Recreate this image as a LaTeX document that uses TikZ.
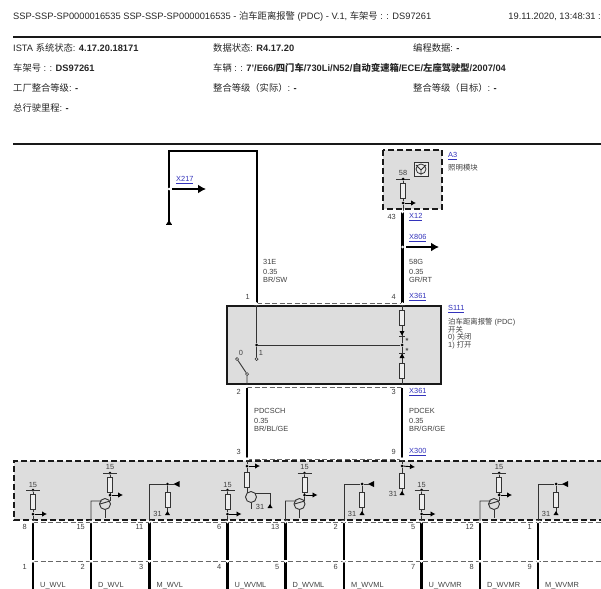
\documentclass[tikz,border=0pt]{standalone}
\usepackage{fontspec}
\setmainfont{Liberation Sans}
\newfontfamily\cjk{Noto Sans CJK SC}
\usetikzlibrary{arrows.meta,calc,positioning}
\definecolor{boxgray}{HTML}{DDDDDD}
\definecolor{linkblue}{HTML}{3333BB}
\definecolor{wiregray}{HTML}{333333}
\tikzset{
  txt/.style={inner sep=0pt,anchor=west,font=\fontsize{9.3}{9.3}\selectfont,text=black!85},
  lbl/.style={inner sep=0pt,anchor=west,font=\fontsize{7.4}{7.4}\selectfont,text=black!75},
  pinlbl/.style={lbl,anchor=east},
  linkto/.style={lbl,text=linkblue},
  wire/.style={line width=2.8pt,black},
  thin wire/.style={line width=0.9pt,wiregray},
  sig/.style={line width=2.6pt,-{Latex[length=8pt,width=9pt]}},
  smallsig/.style={line width=0.9pt,-{Latex[length=5pt,width=5.5pt]}},
  res/.style={draw=wiregray,line width=0.8pt,fill=boxgray!50,minimum width=5pt,minimum height=15pt,inner sep=0pt},
  dot/.style={circle,fill=black,inner sep=0pt,minimum size=3pt},
  hole/.style={circle,draw=wiregray,fill=white,line width=0.7pt,inner sep=0pt,minimum size=3pt},
  tran/.style={circle,draw=wiregray,line width=0.9pt,inner sep=0pt,minimum size=11pt},
  dashbox/.style={draw=black!90,line width=1.5pt,dash pattern=on 6pt off 3pt,fill=boxgray},
  thindash/.style={draw=black!60,line width=0.9pt,dash pattern=on 5pt off 2.5pt},
}
\newcommand{\gndmark}[1]{\fill[black] ($(#1)+(0,-4)$) -- ++(-2.5,4) -- ++(5,0) -- cycle;}
\newcommand{\notch}[1]{\fill[white] ($(#1)+(-2.6,0)$) -- ++(5.2,0) -- ++(-2.6,3) -- cycle;}
\newcommand{\notchup}[1]{\fill[white] ($(#1)+(-2.6,0)$) -- ++(5.2,0) -- ++(-2.6,-3) -- cycle;}
\begin{document}
\begin{tikzpicture}[x=1pt,y=-1pt]
  \useasboundingbox (0,0) rectangle (601,588);

  % header
  \node[txt] (title) at (13,17) {SSP-SSP-SP0000016535 SSP-SSP-SP0000016535 - {\cjk 泊车距离报警} (PDC) - V.1, {\cjk 车架号} : : DS97261};
  \node[txt,anchor=east] (date) at (601,17) {19.11.2020, 13:48:31 :};
  \draw[line width=1.6pt,black!90] (13,37) -- (601,37);
  \node[txt] (ista) at (13,47.5) {ISTA {\cjk 系统状态}: \textbf{4.17.20.18171}};
  \node[txt] (datastat) at (213,47.5) {{\cjk 数据状态}: \textbf{R4.17.20}};
  \node[txt] (prog) at (413,47.5) {{\cjk 编程数据}: \textbf{-}};
  \node[txt] (vin) at (13,68) {{\cjk 车架号} : : \textbf{DS97261}};
  \node[txt] (car) at (213,68) {{\cjk 车辆} : : \textbf{7'/E66/{\cjk\bfseries 四门车}/730Li/N52/{\cjk\bfseries 自动变速箱}/ECE/{\cjk\bfseries 左座驾驶型}/2007/04}};
  \node[txt] (plant) at (13,88) {{\cjk 工厂整合等级}: \textbf{-}};
  \node[txt] (actual) at (213,88) {{\cjk 整合等级（实际）}: \textbf{-}};
  \node[txt] (target) at (413,88) {{\cjk 整合等级（目标）}: \textbf{-}};
  \node[txt] (km) at (13,108) {{\cjk 总行驶里程}: \textbf{-}};
  \draw[line width=1.6pt,black!90] (13,144) -- (601,144);

  % boxes
  \path[dashbox] (383,150) rectangle (442,209);
  \path[draw=black!90,line width=1.5pt,fill=boxgray] (227,306) rectangle (441,384);
  \path[fill=boxgray] (14,461) rectangle (601,520);
  \draw[dashbox,fill=none] (603,461) -- (14,461) -- (14,520) -- (603,520);
  \draw[thindash] (257,303) -- (402,303);
  \draw[thindash] (247,387) -- (402,387);
  \draw[thindash] (247,459) -- (402,459);
  \draw[thindash] (33,522.5) -- (601,522.5);
  \draw[thindash] (33,561) -- (601,561);

  % X217 loop
  \coordinate (gndA) at (169,221);
  \coordinate (pinA) at (257,303);
  \draw[wire,line join=miter] (gndA) -- (169,151) -- (257,151) -- (pinA);
  \gndmark{169,224}
  \fill[black] (166,223.5) rectangle (172,225);
  \fill[white] (169,189) circle (1.5pt);
  \draw[sig] (172,189) -- (206,189);
  \node[linkto] (x217) at (176,180) {\underline{X217}};

  % A3
  \node[draw=wiregray,line width=0.9pt,fill=boxgray!60,minimum size=14pt,inner sep=0pt] (lamp) at (421,169) {};
  \draw[wiregray,line width=0.8pt] (lamp.center) circle (5pt)
    (416,165) -- (421,170) -- (426,165) (421,170) -- (421,175);
  \node[lbl,anchor=center] (a3pin) at (403,173) {58};
  \draw[line width=0.8pt,wiregray] (396,179) -- (410,179);
  \node[dot] (a3top) at (403,179) {};
  \node[res] (a3res) at (403,191) {};
  \node[dot] (a3out) at (403,203) {};
  \coordinate (a3pinb) at (403,211);
  \draw[thin wire] (a3top) -- (a3res) -- (a3out) -- (a3pinb);
  \draw[smallsig] (a3out) -- (416,203);
  \node[linkto] (a3) at (448,156) {\underline{A3}};
  \node[lbl] (a3txt) at (448,168) {\cjk 照明模块};

  % 58G line
  \draw[wire] (402.5,212) -- (402.5,303);
  \notch{402.5,210.5}
  \fill[white] (402.5,247) circle (1.5pt);
  \draw[sig] (406,247) -- (439,247);
  \node[pinlbl] (p43) at (396,217) {43};
  \node[linkto] (x12) at (409,217) {\underline{X12}};
  \node[linkto] (x806) at (409,238) {\underline{X806}};
  \node[lbl] (n31e) at (263,262) {31E};
  \node[lbl] (s31e) at (263,272) {0.35};
  \node[lbl] (c31e) at (263,280) {BR/SW};
  \node[lbl] (n58g) at (409,262) {58G};
  \node[lbl] (s58g) at (409,272) {0.35};
  \node[lbl] (c58g) at (409,280) {GR/RT};
  \node[pinlbl] (p1) at (250,297) {1};
  \node[pinlbl] (p4) at (396,297) {4};
  \node[linkto] (x361a) at (409,297) {\underline{X361}};

  % S111
  \node[linkto] (s111) at (448,309) {\underline{S111}};
  \node[lbl] (s111a) at (448,322) {{\cjk 泊车距离报警} (PDC)};
  \node[lbl] (s111b) at (448,329.5) {\cjk 开关};
  \node[lbl] (s111c) at (448,337.5) {0) {\cjk 关闭}};
  \node[lbl] (s111d) at (448,345.5) {1) {\cjk 打开}};
  \node[dot] (jl) at (256.5,345) {};
  \node[dot] (jr) at (402,345) {};
  \node[hole] (swa) at (256.5,359) {};
  \node[hole] (swb) at (237,359) {};
  \node[hole] (swc) at (247,374) {};
  \node[res] (rtop) at (402,318) {};
  \node[res] (rbot) at (402,371) {};
  \coordinate (s1) at (256.5,304);
  \coordinate (s2) at (402,304);
  \coordinate (s3) at (402,386);
  \coordinate (s4) at (247,386);
  \draw[thin wire] (s1) -- (jl) -- (swa) (jl) -- (jr) (s2) -- (rtop) -- (jr) -- (rbot) -- (s3);
  \draw[thin wire] (swb) -- (swc) -- (s4);
  \fill[black] (399.5,331) -- (404.5,331) -- (402,335.5) -- cycle;
  \fill[black] (399.5,358) -- (404.5,358) -- (402,353.5) -- cycle;
  \draw[thin wire] (399,336) -- (405,336) (399,353) -- (405,353);
  \node[lbl,anchor=center] (stara) at (407,340.5) {\textbf{*}};
  \node[lbl,anchor=center] (starb) at (407,350.5) {\textbf{*}};
  \node[lbl,anchor=center] (l0) at (241,353) {0};
  \node[lbl,anchor=center] (l1) at (261,353) {1};
  \notchup{256.5,305}
  \notchup{402.5,305}
  \notch{247,385}
  \notch{402,385}

  % wires to the module
  \draw[wire] (247,388) -- (247,459) (402,388) -- (402,459);
  \notchup{247,460}
  \notchup{402,460}
  \node[pinlbl] (p2) at (241,392) {2};
  \node[pinlbl] (p3) at (396,392) {3};
  \node[linkto] (x361b) at (409,392) {\underline{X361}};
  \node[lbl] (nsch) at (254,411) {PDCSCH};
  \node[lbl] (ssch) at (254,421) {0.35};
  \node[lbl] (csch) at (254,429) {BR/BL/GE};
  \node[lbl] (nek) at (409,411) {PDCEK};
  \node[lbl] (sek) at (409,421) {0.35};
  \node[lbl] (cek) at (409,429) {BR/GR/GE};
  \node[pinlbl] (p3b) at (241,452) {3};
  \node[pinlbl] (p9b) at (396,452) {9};
  \node[linkto] (x300) at (409,452) {\underline{X300}};

  % lower wires
  \foreach \x/\up/\low/\nm in {33/8/1/U\_WVL,91/15/2/D\_WVL,149.5/11/3/M\_WVL,
      227.5/6/4/U\_WVML,285.5/13/5/D\_WVML,344/2/6/M\_WVML,
      421.5/5/7/U\_WVMR,480/12/8/D\_WVMR,538/1/9/M\_WVMR}{
    \draw[wire] (\x,522) -- (\x,560) (\x,562) -- (\x,590);
    \notch{\x,520.5}
    \notch{\x,560}
    \node[pinlbl] at (\x-6,527) {\up};
    \node[pinlbl] at (\x-6,566.5) {\low};
    \node[lbl] at (\x+7,585.5) {\nm};
  }

  % U outputs
  \foreach \x/\i in {33/a,227.5/b,421.5/c}{
    \node[res] (ur\i) at (\x,502) {};
    \node[dot] (ut\i) at (\x,490) {};
    \node[dot] (ub\i) at (\x,514) {};
    \coordinate (up\i) at (\x,521);
    \draw[thin wire] (ut\i) -- (ur\i) -- (ub\i) -- (up\i);
    \draw[line width=0.8pt,wiregray] (\x-7,490) -- (\x+7,490);
    \node[lbl,anchor=center] at (\x,484.5) {15};
    \draw[smallsig] (ub\i) -- (\x+14,514);
  }

  % D outputs
  \foreach \x/\i in {91/a,285.5/b,480/c}{
    \node[tran] (dt\i) at (\x+14,504) {};
    \node[res] (dr\i) at (\x+19,485) {};
    \node[dot] (dh\i) at (\x+19,473) {};
    \node[dot] (do\i) at (\x+19,495) {};
    \coordinate (dp\i) at (\x,521);
    \draw[thin wire] (dh\i) -- (dr\i) -- (do\i) -- (\x+19,501);
    \draw[thin wire] (dp\i) -- (\x,501) -- (\x+11,501) (\x+9,504) -- (\x+19,501);
    \draw[thin wire] (\x+14,510) -- (\x+14,518);
    \draw[line width=0.8pt,wiregray] (\x+12,473) -- (\x+26,473);
    \node[lbl,anchor=center] at (\x+19,467) {15};
    \draw[smallsig] (do\i) -- (\x+32,495);
  }

  % M outputs
  \foreach \x/\i in {149.5/a,344/b,538/c}{
    \node[dot] (mj\i) at (\x+18,484) {};
    \node[res] (mr\i) at (\x+18,500) {};
    \coordinate (mg\i) at (\x+18,515);
    \coordinate (mp\i) at (\x,521);
    \draw[thin wire] (mp\i) -- (\x,484) -- (mj\i) -- (mr\i) -- (mg\i);
    \fill[black] (\x+24,484) -- ++(6,-3) -- ++(0,6) -- cycle;
    \draw[thin wire] (mj\i) -- (\x+25,484);
    \gndmark{mg\i}
    \node[lbl,anchor=center] at (\x+8,514) {31};
  }

  % lines coming in from above
  \node[dot] (sj) at (247,466) {};
  \node[res] (sr) at (247,479.5) {};
  \node[tran] (st) at (251,497) {};
  \coordinate (sg) at (270,508);
  \draw[thin wire] (247,461) -- (sj) -- (sr) -- (247,493);
  \draw[thin wire] (255,493) -- (270,493) -- (sg) (251,503) -- (251,509);
  \draw[smallsig] (sj) -- (260,466);
  \gndmark{sg}
  \node[lbl,anchor=center] (s31) at (260,507) {31};
  \node[dot] (ej) at (402,466) {};
  \node[res] (er) at (402,480.5) {};
  \coordinate (eg) at (402,495);
  \draw[thin wire] (402,461) -- (ej) -- (er) -- (eg);
  \draw[smallsig] (ej) -- (415,467);
  \gndmark{eg}
  \node[lbl,anchor=center] (e31) at (393,494) {31};
\end{tikzpicture}
\end{document}
